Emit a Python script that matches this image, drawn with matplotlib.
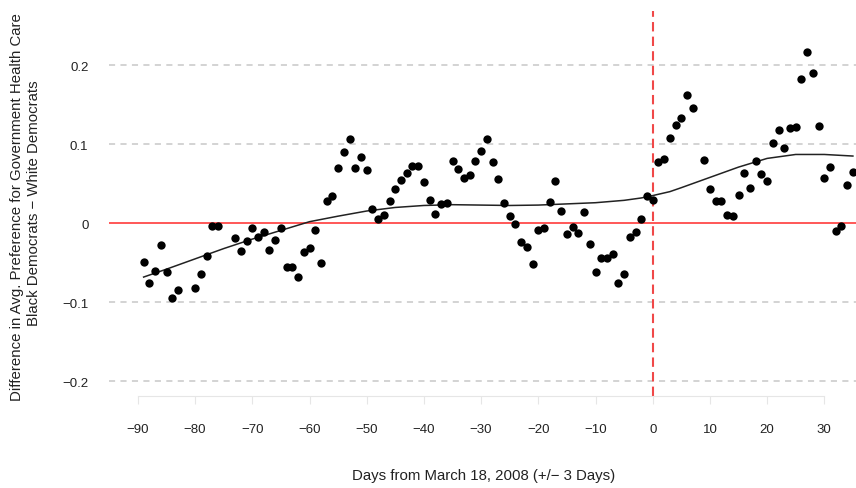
import numpy as np
import matplotlib
matplotlib.use('Agg')
import matplotlib.pyplot as plt

plt.rcParams['font.family'] = ['Liberation Sans', 'DejaVu Sans']

# daily differences (black - white democrats)
days = [-89, -88, -87, -86, -85, -84, -83, -80, -79, -78, -77, -76,
        -73, -72, -71, -70, -69, -68, -67, -66, -65, -64, -63, -62,
        -61, -60, -59, -58, -57, -56, -55, -54, -53, -52, -51, -50,
        -49, -48, -47, -46, -45, -44, -43, -42, -41, -40, -39, -38,
        -37, -36, -35, -34, -33, -32, -31, -30, -29, -28, -27, -26,
        -25, -24, -23, -22, -21, -20, -19, -18, -17, -16, -15, -14,
        -13, -12, -11, -10, -9, -8, -7, -6, -5, -4, -3, -2,
        -1, 0, 1, 2, 3, 4, 5, 6, 7, 9, 10, 11,
        12, 13, 14, 15, 16, 17, 18, 19, 20, 21, 22, 23,
        24, 25, 26, 27, 28, 29, 30, 31, 32, 33, 34, 35]
diff = [-0.049, -0.076, -0.060, -0.028, -0.061, -0.094, -0.084, -0.082, -0.064, -0.041, -0.003, -0.003,
        -0.018, -0.035, -0.023, -0.006, -0.017, -0.011, -0.034, -0.021, -0.006, -0.055, -0.055, -0.068,
        -0.036, -0.031, -0.008, -0.050, 0.028, 0.034, 0.070, 0.090, 0.106, 0.070, 0.084, 0.067,
        0.018, 0.005, 0.011, 0.028, 0.043, 0.055, 0.064, 0.072, 0.073, 0.052, 0.030, 0.012,
        0.025, 0.026, 0.079, 0.068, 0.057, 0.061, 0.079, 0.091, 0.107, 0.078, 0.056, 0.026,
        0.009, -0.001, -0.024, -0.030, -0.052, -0.008, -0.006, 0.027, 0.054, 0.015, -0.014, -0.005,
        -0.012, 0.014, -0.026, -0.061, -0.044, -0.044, -0.039, -0.076, -0.064, -0.017, -0.011, 0.006,
        0.034, 0.030, 0.078, 0.081, 0.108, 0.124, 0.133, 0.162, 0.146, 0.080, 0.043, 0.028,
        0.028, 0.010, 0.009, 0.036, 0.063, 0.045, 0.079, 0.062, 0.054, 0.101, 0.118, 0.095,
        0.121, 0.122, 0.182, 0.217, 0.190, 0.123, 0.057, 0.071, -0.010, -0.004, 0.049, 0.065]

# loess fit
fit_days = [-89, -85, -80, -75, -70, -65, -60, -55, -50, -45, -40, -35, -30,
            -25, -20, -15, -10, -5, -2, 0, 3, 5, 10, 15, 20, 25, 30, 35]
fit_vals = [-0.068, -0.058, -0.045, -0.032, -0.020, -0.009, 0.002, 0.009, 0.0155,
            0.020, 0.0225, 0.0235, 0.023, 0.0225, 0.023, 0.0245, 0.026, 0.029,
            0.032, 0.035, 0.040, 0.045, 0.058, 0.071, 0.082, 0.087, 0.087, 0.085]

xticks = [-90, -80, -70, -60, -50, -40, -30, -20, -10, 0, 10, 20, 30]
yticks = [-0.2, -0.1, 0, 0.1, 0.2]
ylabels = ['\u22120.2', '\u22120.1', '0', '0.1', '0.2']

W, H = 856, 489
fig = plt.figure(figsize=(W / 100, H / 100), dpi=100)
ax = fig.add_axes([109.3 / W, (H - 396.7) / H, 772.2 / W, 384.4 / H])
ax.set_xlim(-95, 40)
ax.set_ylim(-0.218, 0.268)

for y in yticks:
    if y != 0:
        ax.axhline(y, color='#c8c8c8', lw=1.1, ls=(0, (4, 3.5)), zorder=1)
ax.axhline(0, color='#ff2a2a', lw=1.1, zorder=2)
ax.axvline(0, color='#f04848', lw=1.5, ls=(0, (4.5, 2.5)), zorder=2)

ax.plot(fit_days, fit_vals, color='#222222', lw=1.1, zorder=3)
ax.scatter(days, diff, s=36, color='black', zorder=4, linewidths=0)

for s in ['top', 'right', 'left']:
    ax.spines[s].set_visible(False)
ax.spines['bottom'].set_bounds(-90, 30)
ax.spines['bottom'].set_color('#e6e6e6')
ax.spines['bottom'].set_linewidth(0.8)

ax.set_xticks(xticks)
ax.set_xticklabels([str(t).replace('-', '\u2212') for t in xticks])
ax.set_yticks(yticks)
ax.set_yticklabels(ylabels)
ax.tick_params(axis='x', length=6, width=0.8, color='#e6e6e6', pad=14,
               labelsize=9.5, labelcolor='#222222')
ax.tick_params(axis='y', length=0, pad=15, labelsize=9.5, labelcolor='#222222')

fig.text(484 / W, 1 - 476 / H, 'Days from March 18, 2008 (+/\u2212 3 Days)',
         ha='center', va='center', fontsize=10.8, color='#222222')
fig.text(17 / W, 1 - 207 / H, 'Difference in Avg. Preference for Government Health Care',
         ha='center', va='center', rotation=90, fontsize=10.8, color='#222222')
fig.text(34 / W, 1 - 203 / H, 'Black Democrats \u2212 White Democrats',
         ha='center', va='center', rotation=90, fontsize=10.8, color='#222222')

fig.savefig('out.png', dpi=100)
